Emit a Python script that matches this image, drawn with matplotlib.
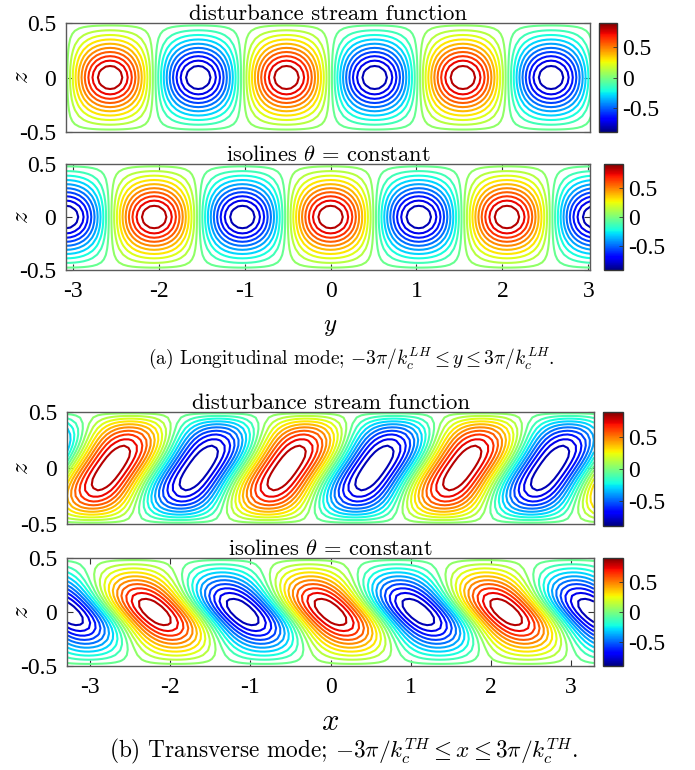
import numpy as np
import matplotlib
matplotlib.use("Agg")
import matplotlib.pyplot as plt
from matplotlib.colors import Normalize
from matplotlib.cm import ScalarMappable
from matplotlib.ticker import FixedFormatter, FixedLocator

plt.rcParams["font.family"] = ["Liberation Serif", "DejaVu Serif"]
plt.rcParams["mathtext.fontset"] = "cm"
plt.rcParams["axes.unicode_minus"] = False

# ---- mode parameters -------------------------------------------------------
kc_LH = 3.06          # critical wavenumber, longitudinal mode
kc_TH = 2.865         # critical wavenumber, transverse mode
amp = 0.9             # amplitude of the normalised eigenfunctions
peak_L = 0.4          # vertical peaking of the longitudinal eigenfunctions
gamma_psi = 0.425     # sin(2*pi*z) part of the transverse stream function
peak_theta_T = 0.6    # vertical peaking of the transverse temperature
eta_theta_T = 1.0     # quadrature part of the transverse temperature

# ---- plotting parameters ---------------------------------------------------
levels = np.linspace(-0.9, 0.9, 22)[1:-1]
clim = (-0.9, 0.9)
z_ticks = [-0.5, 0, 0.5]
z_ticklabels = ["-0.5", "0", "0.5"]
h_ticks = [-3, -2, -1, 0, 1, 2, 3]
h_ticklabels = ["-3", "-2", "-1", "0", "1", "2", "3"]
cbar_ticks = [-0.5, 0, 0.5]
cbar_ticklabels = ["-0.5", "0", "0.5"]
xlim_LH = (-3.08, 3.02)
xlim_TH = (-3.29, 3.29)

titles = ["disturbance stream function", "isolines $\\theta$ = constant"]
caption_a = r"(a) Longitudinal mode; $-3\pi/k_c^{LH} \leq y \leq 3\pi/k_c^{LH}$."
caption_b = r"(b) Transverse mode; $-3\pi/k_c^{TH} \leq x \leq 3\pi/k_c^{TH}$."


def envelope(z, c):
    """vertical profile vanishing at the walls z = +-1/2"""
    return np.cos(np.pi * z) * np.exp(-c * np.sin(np.pi * z) ** 2)


# ---- fields ----------------------------------------------------------------
nz, nh = 21, 121
z = np.linspace(-0.5, 0.5, nz)

yL = np.linspace(-3 * np.pi / kc_LH, 3 * np.pi / kc_LH, nh)
YL, ZL = np.meshgrid(yL, z)
psi_L = -amp * np.sin(kc_LH * YL) * envelope(ZL, peak_L)
theta_L = amp * np.cos(kc_LH * YL) * envelope(ZL, peak_L)

xT = np.linspace(-3 * np.pi / kc_TH, 3 * np.pi / kc_TH, nh)
XT, ZT = np.meshgrid(xT, z)
psi_T = amp * (-np.cos(np.pi * ZT) * np.sin(kc_TH * XT)
               + gamma_psi * np.sin(2 * np.pi * ZT) * np.cos(kc_TH * XT))
theta_T = amp * envelope(ZT, peak_theta_T) * (
    np.cos(kc_TH * XT) - eta_theta_T * np.sin(np.pi * ZT) * np.sin(kc_TH * XT))

# ---- figure ----------------------------------------------------------------
W, H = 695, 770
fig = plt.figure(figsize=(W / 100, H / 100), dpi=100)


def fr(l, t, r, b):
    """pixel box -> figure fraction rect"""
    return [l / W, 1 - b / H, (r - l) / W, (b - t) / H]


tick_size = 17
edge = "#5a5a5a"
norm = Normalize(*clim)

panels = [
    (fr(66, 23, 590, 132), fr(599, 23, 617, 132), YL, ZL, psi_L, xlim_LH, titles[0], False),
    (fr(66, 164, 590, 270), fr(604, 164, 623, 270), YL, ZL, theta_L, xlim_LH, titles[1], True),
    (fr(67, 412, 594, 524), fr(603, 412, 623, 526), XT, ZT, psi_T, xlim_TH, titles[0], False),
    (fr(67, 558, 594, 666), fr(603, 558, 623, 666), XT, ZT, theta_T, xlim_TH, titles[1], True),
]
# text widths in pixels used to size the headings
title_widths = {titles[0]: 278, titles[1]: 205}

cbars = []
sized_texts = []
for rect, crect, X, Z, F, xlim, title, show_x in panels:
    ax = fig.add_axes(rect)
    ax.contour(X, Z, F, levels=levels, cmap="jet", norm=norm, linewidths=1.5)
    ax.set_xlim(*xlim)
    ax.set_ylim(-0.5, 0.5)
    ax.set_yticks(z_ticks, labels=z_ticklabels, fontsize=tick_size)
    if show_x:
        ax.set_xticks(h_ticks, labels=h_ticklabels, fontsize=tick_size)
        ax.tick_params(axis="x", direction="in", top=True, length=4, width=0.8,
                       color="#333333", pad=8)
    else:
        ax.set_xticks([])
    ax.tick_params(axis="y", direction="in", right=True, length=4, width=0.8,
                   color="#333333", pad=7)
    for s in ax.spines.values():
        s.set_color(edge)
        s.set_linewidth(1.0)
    t = ax.annotate(title, xy=(0.5, 1.0), xycoords="axes fraction", xytext=(0, 2),
                    textcoords="offset points", ha="center", va="baseline",
                    fontfamily="cmr10", fontsize=16)
    sized_texts.append((t, title_widths[title]))
    bb = ax.get_position()
    fig.text(22 / W, (bb.y0 + bb.y1) / 2, "$z$", fontsize=18, rotation=90,
             ha="center", va="center")

    cax = fig.add_axes(crect)
    cb = fig.colorbar(ScalarMappable(norm=norm, cmap="jet"), cax=cax)
    cb.outline.set_edgecolor("#333333")
    cb.outline.set_linewidth(1.0)
    cbars.append(cb)

for cb in cbars:
    cb.ax.yaxis.set_major_locator(FixedLocator(cbar_ticks))
    cb.ax.yaxis.set_major_formatter(FixedFormatter(cbar_ticklabels))
    cb.ax.yaxis.set_minor_locator(FixedLocator([]))
    cb.ax.tick_params(direction="in", length=3, width=0.6, color="#333333",
                      pad=4, labelsize=tick_size)

fig.text(330 / W, 1 - 327 / H, "$y$", fontsize=18, ha="center", va="center")
fig.text(330 / W, 1 - 722 / H, "$x$", fontsize=22, ha="center", va="center")
ta = fig.text(351.5 / W, 1 - 358 / H, caption_a, fontfamily="cmr10", fontsize=14,
              ha="center", va="center")
tb = fig.text(343 / W, 1 - 752 / H, caption_b, fontfamily="cmr10", fontsize=14,
              ha="center", va="center")
sized_texts += [(ta, 407), (tb, 470)]

# scale headings and captions to their intended widths
fig.canvas.draw()
renderer = fig.canvas.get_renderer()
for txt, width in sized_texts:
    w = txt.get_window_extent(renderer).width
    txt.set_fontsize(txt.get_fontsize() * width / w)

fig.savefig("out.png", dpi=100)
